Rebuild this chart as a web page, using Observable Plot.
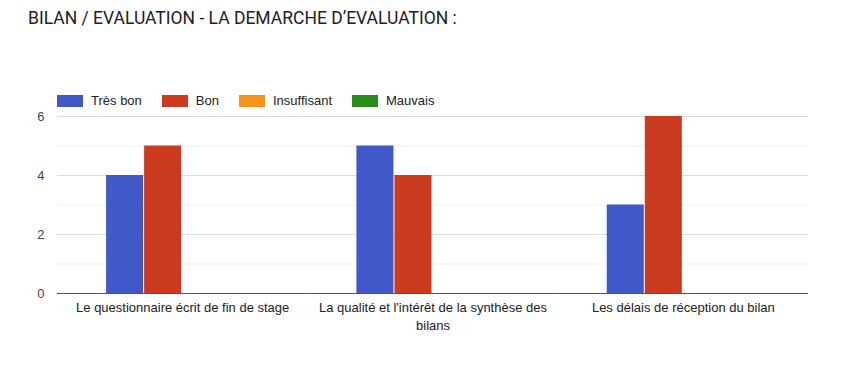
<!DOCTYPE html>
<html>
<head>
<meta charset="utf-8">
<script src="https://cdn.jsdelivr.net/npm/d3@7"></script>
<script src="https://cdn.jsdelivr.net/npm/@observablehq/plot@0.6"></script>
<style>
  body { margin: 0; background: #fff; width: 854px; height: 366px; overflow: hidden; }
  #title { height: 36px; box-sizing: border-box; padding: 7px 0 0 28px; font: 17.5px Roboto, sans-serif; color: #202124; line-height: 22px; white-space: nowrap; }
  #legend { height: 72px; box-sizing: border-box; padding: 57px 0 0 57px; font: 13px Arial, "Liberation Sans", sans-serif; color: #222; display: flex; align-items: center; }
  .item { display: flex; align-items: center; margin-right: 20px; line-height: 12px; }
  .sw { width: 26px; height: 12px; margin-right: 8px; }
  #chart svg { display: block; }
</style>
</head>
<body>
<div id="title"></div>
<div id="legend"></div>
<div id="chart"></div>
<script>
const titleText = "BILAN / EVALUATION - LA DEMARCHE D’EVALUATION :";
const categories = [
  "Le questionnaire écrit de fin de stage",
  "La qualité et l'intérêt de la synthèse des bilans",
  "Les délais de réception du bilan"
];
const tickLabels = [
  "Le questionnaire écrit de fin de stage",
  "La qualité et l'intérêt de la synthèse des\nbilans",
  "Les délais de réception du bilan"
];
const series = ["Très bon", "Bon", "Insuffisant", "Mauvais"];
const tresBon = [4, 5, 3];
const bon = [5, 4, 6];
const insuffisant = [0, 0, 0];
const mauvais = [0, 0, 0];
const colors = ["#4158c9", "#cb3b1f", "#f5931c", "#2a8c1c"];
const yTicks = [0, 2, 4, 6];
const gridValues = [0, 1, 2, 3, 4, 5, 6];

const seriesValues = [tresBon, bon, insuffisant, mauvais];
const data = [];
categories.forEach((c, i) => series.forEach((s, j) => data.push({category: c, series: s, value: seriesValues[j][i]})));

document.getElementById("title").textContent = titleText;
const legend = document.getElementById("legend");
series.forEach((s, j) => {
  const it = document.createElement("div"); it.className = "item";
  const sw = document.createElement("div"); sw.className = "sw"; sw.style.background = colors[j];
  const t = document.createElement("span"); t.textContent = s;
  it.appendChild(sw); it.appendChild(t); legend.appendChild(it);
});

const chart = Plot.plot({
  width: 854,
  height: 258,
  marginTop: 8,
  marginBottom: 73,
  marginLeft: 57,
  marginRight: 46,
  style: {fontFamily: "Arial, 'Liberation Sans', sans-serif", fontSize: "13px", color: "#222", background: "#fff"},
  fx: {domain: categories, paddingInner: 0, paddingOuter: 0, round: false, label: null, axis: null},
  x: {domain: series, paddingInner: 0, paddingOuter: 1.29, round: false, axis: null},
  y: {domain: [0, 6], label: null, axis: null},
  color: {domain: series, range: colors},
  marks: [
    Plot.ruleY(gridValues, {stroke: d => d % 2 ? "#efefef" : "#dcdcdc", strokeWidth: 1}),
    Plot.barY(data, {fx: "category", x: "series", y: "value", fill: "series", insetLeft: 0, insetRight: 1}),
    Plot.ruleY([0], {stroke: "#555", strokeWidth: 1.2}),
    Plot.axisY({ticks: yTicks, tickFormat: d => String(d), tickSize: 0, tickPadding: 13, label: null, fill: "#444", fontSize: 13}),
    Plot.axisFx({anchor: "bottom", tickSize: 0, tickPadding: 6, label: null, tickFormat: d => tickLabels[categories.indexOf(d)], lineHeight: 1.35, fill: "#222", fontSize: 13})
  ]
});
document.getElementById("chart").appendChild(chart);
</script>
</body>
</html>
